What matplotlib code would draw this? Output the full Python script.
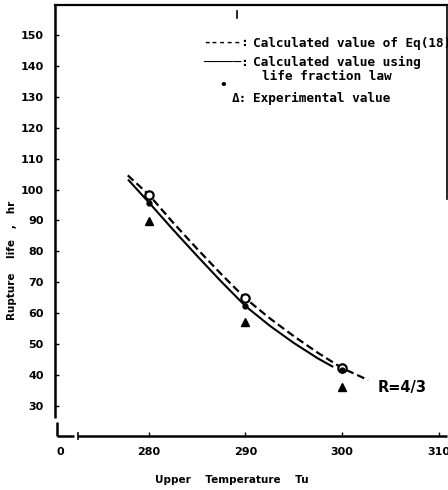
import matplotlib
matplotlib.use('Agg')
import matplotlib.pyplot as plt

# Data
temp_pts = [280, 290, 300]
eq18_pts = [98.3, 64.8, 42.3]          # open circles, calculated value of Eq(18)
life_frac_pts = [95.8, 62.3, 41.5]      # small dots, life fraction law
exp_pts = [89.8, 57.3, 36.2]            # triangles, experimental value

eq18_x = [277.8, 280, 282.5, 285, 287.5, 290, 292.5, 295, 297.5, 300, 302.7]
eq18_y = [104.6, 98.3, 89.3, 80.8, 72.6, 64.8, 58.4, 52.6, 47.2, 42.3, 38.4]
life_x = [277.9, 280, 282.5, 285, 287.5, 290, 292.5, 295, 297.5, 299]
life_y = [103.0, 95.8, 87.0, 78.5, 70.2, 62.3, 56.0, 50.4, 45.4, 42.8]

xticks = [270.8, 280, 290, 300, 310]
xtick_labels = ['0', '280', '290', '300', '310']
yticks = [30, 40, 50, 60, 70, 80, 90, 100, 110, 120, 130, 140, 150]

W, H = 448, 490
fig = plt.figure(figsize=(W / 100, H / 100), dpi=100)

def fx(px):
    return px / W

def fy(py):
    return 1 - py / H

ax = fig.add_axes([fx(55), fy(436), (447 - 55) / W, (436 - 5) / H])
ax.set_xlim(270.26, 310.88)
ax.set_ylim(20.3, 159.7)

# curves
ax.plot(eq18_x, eq18_y, color='black', lw=1.6, linestyle=(0, (3.5, 1.8)))
ax.plot(life_x, life_y, color='black', lw=1.5)
ax.plot(temp_pts, eq18_pts, 'o', ms=6, mfc='white', mec='black', mew=1.6)
ax.plot(temp_pts, life_frac_pts, 'o', ms=3.5, color='black')
ax.plot(temp_pts, exp_pts, '^', ms=6, color='black')

# spines with broken axes
for s in ['left', 'bottom']:
    ax.spines[s].set_visible(False)
ax.spines['top'].set_linewidth(1.6)
ax.spines['right'].set_linewidth(1.2)
ax.spines['right'].set_bounds(97, 159.7)
lk = dict(color='black', lw=1.8, transform=ax.transAxes, clip_on=False, solid_capstyle='butt')
yb1 = (436 - 418) / 431
yb2 = (436 - 422) / 431
ax.plot([0, 0], [yb1, 1], **lk)
ax.plot([0.004, 0.004], [0, yb2], **lk)
xb1 = (74 - 55) / 392
xb2 = (78 - 55) / 392
ax.plot([0.004, xb1], [0, 0], **lk)
ax.plot([xb2, 1], [0, 0], **lk)
ax.plot([xb2, xb2], [-0.006, 0.008], color='black', lw=1.2, transform=ax.transAxes, clip_on=False)
ax.plot([(237 - 55) / 392] * 2, [(436 - 11) / 431, (436 - 18) / 431], color='black', lw=1.2,
        transform=ax.transAxes)

ax.set_xticks(xticks, xtick_labels)
ax.set_yticks(yticks)
ax.tick_params(direction='in', length=3, width=1.0, labelsize=8, pad=8)
for lab in ax.get_xticklabels() + ax.get_yticklabels():
    lab.set_fontweight('bold')
ax.get_xticklines()[0].set_visible(False)
ax.get_xticklines()[1].set_visible(False)

# axis labels
fig.text(fx(232), fy(480), 'Upper    Temperature    Tu', ha='center', va='center',
         fontsize=7.5, fontweight='bold')
fig.text(fx(12), fy(260), 'Rupture    life   ,   hr', ha='center', va='center',
         rotation=90, fontsize=7.5, fontweight='bold')

# legend written as text
mono = dict(family='DejaVu Sans Mono', fontweight='bold', fontsize=9.2, va='center')
fig.text(fx(249), fy(43), '-----:', ha='right', **mono)
fig.text(fx(253), fy(43), 'Calculated value of Eq(18)', ha='left', **mono)
fig.text(fx(249), fy(62), '\u2500\u2500\u2500\u2500\u2500:', ha='right', **mono)
fig.text(fx(253), fy(62), 'Calculated value using', ha='left', **mono)
fig.text(fx(262), fy(77), 'life fraction law', ha='left', **mono)
fig.text(fx(223), fy(85), '\u2022', ha='center', **mono)
fig.text(fx(247), fy(98), '\u0394:', ha='right', **mono)
fig.text(fx(253), fy(98), 'Experimental value', ha='left', **mono)

fig.text(fx(378), fy(387), 'R=4/3', ha='left', va='center', fontsize=10.5, fontweight='bold')

plt.savefig('out.png', dpi=100)
